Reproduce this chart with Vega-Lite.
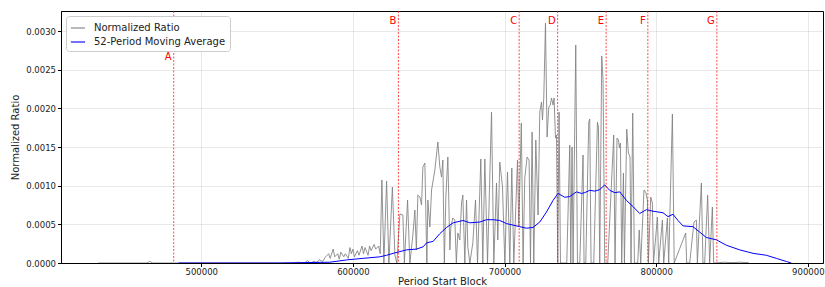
{
  "$schema": "https://vega.github.io/schema/vega-lite/v6.json",
  "width": 762,
  "height": 252,
  "autosize": "none",
  "padding": {"left": 61, "top": 11, "right": 2, "bottom": 24},
  "background": "white",
  "config": {
    "font": "DejaVu Sans",
    "view": {"stroke": "black", "strokeWidth": 1},
    "axis": {
      "domainColor": "black",
      "tickColor": "black",
      "tickSize": 3.5,
      "labelColor": "#222222",
      "labelFontSize": 8.5,
      "titleFontSize": 10,
      "titleFontWeight": "normal",
      "titleColor": "#222222",
      "gridColor": "#b0b0b0",
      "gridOpacity": 0.35,
      "gridWidth": 0.8,
      "labelFont": "DejaVu Sans",
      "titleFont": "DejaVu Sans"
    }
  },
  "datasets": {
    "ratio": [
      {"block": 432000, "value": 0}, {"block": 464000, "value": 0}, {"block": 466000, "value": 0.00002}, {"block": 468000, "value": 0},
      {"block": 560000, "value": 0}, {"block": 564000, "value": 0.00001}, {"block": 568000, "value": 0}, {"block": 570000, "value": 0.00003},
      {"block": 572000, "value": 0}, {"block": 574000, "value": 0.00002}, {"block": 576000, "value": 0.00001}, {"block": 578000, "value": 0.00004},
      {"block": 580000, "value": 0.00002}, {"block": 582000, "value": 0.00008}, {"block": 584000, "value": 0.00012}, {"block": 585000, "value": 0.00006},
      {"block": 587000, "value": 0.00018}, {"block": 588000, "value": 0.00008}, {"block": 590000, "value": 0.00012}, {"block": 591000, "value": 0.00005},
      {"block": 592000, "value": 0.00014}, {"block": 594000, "value": 0.00008}, {"block": 595000, "value": 0.00012}, {"block": 597000, "value": 0.00006},
      {"block": 598000, "value": 0.0002}, {"block": 599000, "value": 0.00012}, {"block": 600000, "value": 0.00018}, {"block": 601000, "value": 0.00008},
      {"block": 603000, "value": 0.00016}, {"block": 604000, "value": 0.0001}, {"block": 606000, "value": 0.00022}, {"block": 607000, "value": 0.00012},
      {"block": 608000, "value": 0.0002}, {"block": 610000, "value": 0.0001}, {"block": 611000, "value": 0.00022}, {"block": 612000, "value": 0.00016},
      {"block": 614000, "value": 0.00024}, {"block": 615000, "value": 0.00018}, {"block": 617000, "value": 0.00022}, {"block": 618000, "value": 0.00012},
      {"block": 619111, "value": 0.001073}, {"block": 620429, "value": 0}, {"block": 622208, "value": 0.00106}, {"block": 623724, "value": 0},
      {"block": 626031, "value": 0.000983}, {"block": 627678, "value": 0.000103}, {"block": 628996, "value": 0}, {"block": 630973, "value": 0.000634},
      {"block": 632950, "value": 0.000621}, {"block": 633939, "value": 0}, {"block": 636047, "value": 0.000815}, {"block": 637563, "value": 0},
      {"block": 639540, "value": 0.000362}, {"block": 640858, "value": 0.000685}, {"block": 641847, "value": 0.000168}, {"block": 642835, "value": 0.000879},
      {"block": 644153, "value": 0.000854}, {"block": 645273, "value": 0.00075}, {"block": 646130, "value": 0.001241}, {"block": 647448, "value": 0.001293},
      {"block": 648766, "value": 0}, {"block": 649425, "value": 0.000815}, {"block": 650743, "value": 0.000466}, {"block": 651863, "value": 0.000944},
      {"block": 654038, "value": 0.001203}, {"block": 656015, "value": 0.001565}, {"block": 657333, "value": 0.001241}, {"block": 658453, "value": 0.001112},
      {"block": 659310, "value": 0.001332}, {"block": 660299, "value": 0}, {"block": 661287, "value": 0.000854}, {"block": 662605, "value": 0.001371},
      {"block": 663923, "value": 0.000168}, {"block": 664582, "value": 0.000466}, {"block": 665900, "value": 0.000582}, {"block": 667218, "value": 0.000556},
      {"block": 668207, "value": 0}, {"block": 669195, "value": 0.000388}, {"block": 670513, "value": 0.000297}, {"block": 671633, "value": 0.000776},
      {"block": 672490, "value": 0.000879}, {"block": 673808, "value": 0}, {"block": 674928, "value": 0.000815}, {"block": 675785, "value": 0.000207},
      {"block": 677103, "value": 0}, {"block": 679080, "value": 0.000259}, {"block": 680859, "value": 0.000815}, {"block": 682177, "value": 0},
      {"block": 684352, "value": 0.001345}, {"block": 685670, "value": 0}, {"block": 686988, "value": 0.001345}, {"block": 688767, "value": 0},
      {"block": 691403, "value": 0.001953}, {"block": 692919, "value": 0}, {"block": 694698, "value": 0.001035}, {"block": 695555, "value": 0.000297},
      {"block": 696873, "value": 0.001306}, {"block": 698652, "value": 0.000983}, {"block": 700168, "value": 0}, {"block": 701947, "value": 0.001177},
      {"block": 703463, "value": 0}, {"block": 704781, "value": 0.001229}, {"block": 706099, "value": 0}, {"block": 708537, "value": 0.001332},
      {"block": 709394, "value": 0.000466}, {"block": 711042, "value": 0.00181}, {"block": 712228, "value": 0}, {"block": 713348, "value": 0.001099},
      {"block": 714864, "value": 0.001371}, {"block": 716182, "value": 0.001332}, {"block": 717104, "value": 0}, {"block": 718159, "value": 0.001694},
      {"block": 719279, "value": 0}, {"block": 720597, "value": 0.001591}, {"block": 722113, "value": 0.000621}, {"block": 723233, "value": 0.001953},
      {"block": 724353, "value": 0.002082}, {"block": 725012, "value": 0.001849}, {"block": 725869, "value": 0.002134}, {"block": 726989, "value": 0.003104},
      {"block": 728044, "value": 0.001629}, {"block": 729164, "value": 0.002017}, {"block": 730153, "value": 0.002043}, {"block": 730943, "value": 0.002134},
      {"block": 731998, "value": 0.002043}, {"block": 732657, "value": 0.002134}, {"block": 733579, "value": 0.001617}, {"block": 734238, "value": 0.001655},
      {"block": 735095, "value": 0}, {"block": 735952, "value": 0.001953}, {"block": 736874, "value": 0}, {"block": 741026, "value": 0},
      {"block": 743003, "value": 0.001526}, {"block": 743662, "value": 0}, {"block": 744519, "value": 0.0015}, {"block": 745178, "value": 0},
      {"block": 746957, "value": 0.002819}, {"block": 748077, "value": 0}, {"block": 749593, "value": 0}, {"block": 751768, "value": 0.001397},
      {"block": 752427, "value": 0}, {"block": 753547, "value": 0}, {"block": 755524, "value": 0.001823}, {"block": 756183, "value": 0.001862},
      {"block": 757040, "value": 0}, {"block": 758819, "value": 0}, {"block": 761257, "value": 0.001823}, {"block": 761916, "value": 0.001759},
      {"block": 762773, "value": 0}, {"block": 764091, "value": 0.002677}, {"block": 764948, "value": 0.002367}, {"block": 766068, "value": 0},
      {"block": 768045, "value": 0}, {"block": 771999, "value": 0.001655}, {"block": 772856, "value": 0}, {"block": 774174, "value": 0.001617},
      {"block": 775096, "value": 0.001591}, {"block": 775755, "value": 0.001487}, {"block": 776414, "value": 0.001552}, {"block": 777271, "value": 0},
      {"block": 778391, "value": 0.001164}, {"block": 779050, "value": 0}, {"block": 780566, "value": 0.001733}, {"block": 781686, "value": 0.001423},
      {"block": 782741, "value": 0.001371}, {"block": 783400, "value": 0}, {"block": 784520, "value": 0.00194}, {"block": 785640, "value": 0},
      {"block": 787815, "value": 0}, {"block": 788804, "value": 0.000427}, {"block": 789792, "value": 0}, {"block": 791967, "value": 0.000944},
      {"block": 793087, "value": 0.000918}, {"block": 794207, "value": 0.000815}, {"block": 794866, "value": 0}, {"block": 796382, "value": 0.000854},
      {"block": 797502, "value": 0.000776}, {"block": 798227, "value": 0}, {"block": 800797, "value": 0.000595}, {"block": 801654, "value": 0},
      {"block": 804092, "value": 0.000556}, {"block": 804949, "value": 0}, {"block": 807387, "value": 0.000582}, {"block": 808244, "value": 0},
      {"block": 810682, "value": 0.001927}, {"block": 811869, "value": 0}, {"block": 819447, "value": 0.000388}, {"block": 820106, "value": 0},
      {"block": 822083, "value": 0}, {"block": 824917, "value": 0.00053}, {"block": 826498, "value": 0.000556}, {"block": 827157, "value": 0},
      {"block": 829793, "value": 0.001035}, {"block": 830848, "value": 0}, {"block": 831968, "value": 0}, {"block": 833945, "value": 0.000879},
      {"block": 835263, "value": 0}, {"block": 837041, "value": 0.000724}, {"block": 837897, "value": 0}, {"block": 845000, "value": 0.00001},
      {"block": 850000, "value": 0.000005}, {"block": 855000, "value": 0.00001}, {"block": 861000, "value": 0.000005}
    ],
    "ma": [
      {"block": 485000, "value": 0}, {"block": 552000, "value": 0}, {"block": 584800, "value": 0.00001}, {"block": 595850, "value": 0.00004},
      {"block": 606590, "value": 0.00006}, {"block": 617800, "value": 0.00008}, {"block": 622200, "value": 0.0001}, {"block": 626560, "value": 0.000125},
      {"block": 635390, "value": 0.00017}, {"block": 641980, "value": 0.00018}, {"block": 646330, "value": 0.00021}, {"block": 648570, "value": 0.00026},
      {"block": 652920, "value": 0.00028}, {"block": 657330, "value": 0.00038}, {"block": 661750, "value": 0.00046}, {"block": 666100, "value": 0.00052},
      {"block": 672690, "value": 0.00055}, {"block": 677100, "value": 0.00052}, {"block": 683690, "value": 0.00053}, {"block": 688100, "value": 0.00056},
      {"block": 692460, "value": 0.00056}, {"block": 696870, "value": 0.00055}, {"block": 701290, "value": 0.00051}, {"block": 705630, "value": 0.00049},
      {"block": 710050, "value": 0.00047}, {"block": 714460, "value": 0.00045}, {"block": 718820, "value": 0.00046}, {"block": 723230, "value": 0.00053},
      {"block": 727650, "value": 0.00066}, {"block": 731990, "value": 0.00081}, {"block": 735290, "value": 0.0009}, {"block": 739700, "value": 0.00085},
      {"block": 743000, "value": 0.00086}, {"block": 747420, "value": 0.00092}, {"block": 750710, "value": 0.0009}, {"block": 752890, "value": 0.00091},
      {"block": 756180, "value": 0.00094}, {"block": 759480, "value": 0.00093}, {"block": 762770, "value": 0.00095}, {"block": 766070, "value": 0.00101},
      {"block": 769360, "value": 0.00094}, {"block": 772660, "value": 0.00091}, {"block": 775950, "value": 0.00092}, {"block": 780370, "value": 0.00081},
      {"block": 784720, "value": 0.00073}, {"block": 789130, "value": 0.00064}, {"block": 793540, "value": 0.00069}, {"block": 797900, "value": 0.00067},
      {"block": 801190, "value": 0.00066}, {"block": 804490, "value": 0.00065}, {"block": 807780, "value": 0.0006}, {"block": 811080, "value": 0.00063},
      {"block": 814370, "value": 0.00055}, {"block": 817670, "value": 0.00048}, {"block": 824260, "value": 0.00047}, {"block": 828670, "value": 0.0004},
      {"block": 833090, "value": 0.00033}, {"block": 839680, "value": 0.0003}, {"block": 846270, "value": 0.00023}, {"block": 855030, "value": 0.00017},
      {"block": 863800, "value": 0.000125}, {"block": 872630, "value": 0.0001}, {"block": 879220, "value": 0.00006}, {"block": 885810, "value": 0.00002},
      {"block": 889100, "value": 0}
    ],
    "events": [
      {"block": 481824, "label": "A"},
      {"block": 630000, "label": "B"},
      {"block": 709632, "label": "C"},
      {"block": 735000, "label": "D"},
      {"block": 767000, "label": "E"},
      {"block": 794500, "label": "F"},
      {"block": 840000, "label": "G"}
    ]
  },
  "layer": [
    {
      "data": {"name": "ratio"},
      "mark": {"type": "line", "strokeWidth": 1, "opacity": 0.85, "clip": true},
      "encoding": {
        "x": {
          "field": "block", "type": "quantitative",
          "scale": {"domain": [407500, 910000], "nice": false, "zero": false},
          "axis": {"title": "Period Start Block", "values": [500000, 600000, 700000, 800000, 900000], "format": "d", "grid": true, "titlePadding": 0, "labelPadding": 1}
        },
        "y": {
          "field": "value", "type": "quantitative",
          "scale": {"domain": [0, 0.00326], "nice": false},
          "axis": {"title": "Normalized Ratio", "values": [0, 0.0005, 0.001, 0.0015, 0.002, 0.0025, 0.003], "format": ".4f", "grid": true, "titlePadding": 5, "labelPadding": 2}
        },
        "color": {
          "datum": "Normalized Ratio",
          "scale": {"domain": ["Normalized Ratio", "52-Period Moving Average"], "range": ["#808080", "#0000ff"]},
          "legend": {
            "title": null,
            "orient": "top-left",
            "offset": 5,
            "symbolType": "stroke",
            "symbolStrokeWidth": 1.3,
            "symbolSize": 200,
            "labelFontSize": 10,
            "labelColor": "#222222",
            "labelFont": "DejaVu Sans",
            "rowPadding": 1,
            "padding": 4,
            "strokeColor": "#cccccc",
            "fillColor": "white",
            "cornerRadius": 3,
            "labelOffset": 8
          }
        }
      }
    },
    {
      "data": {"name": "ma"},
      "mark": {"type": "line", "strokeWidth": 1, "clip": true},
      "encoding": {
        "x": {"field": "block", "type": "quantitative"},
        "y": {"field": "value", "type": "quantitative"},
        "color": {"datum": "52-Period Moving Average"}
      }
    },
    {
      "data": {"name": "events"},
      "mark": {"type": "rule", "color": "red", "opacity": 0.7, "strokeWidth": 1, "strokeDash": [2, 1.5]},
      "encoding": {
        "x": {"field": "block", "type": "quantitative"}
      }
    },
    {
      "data": {"name": "events"},
      "transform": [{"filter": "datum.label == 'A'"}],
      "mark": {"type": "text", "color": "red", "align": "right", "baseline": "middle", "dx": -2, "fontSize": 10, "font": "DejaVu Sans"},
      "encoding": {
        "x": {"field": "block", "type": "quantitative"},
        "y": {"datum": 0.00266},
        "text": {"field": "label"}
      }
    },
    {
      "data": {"name": "events"},
      "transform": [{"filter": "datum.label != 'A'"}],
      "mark": {"type": "text", "color": "red", "align": "right", "baseline": "middle", "dx": -2, "fontSize": 10, "font": "DejaVu Sans"},
      "encoding": {
        "x": {"field": "block", "type": "quantitative"},
        "y": {"datum": 0.003133},
        "text": {"field": "label"}
      }
    }
  ]
}
